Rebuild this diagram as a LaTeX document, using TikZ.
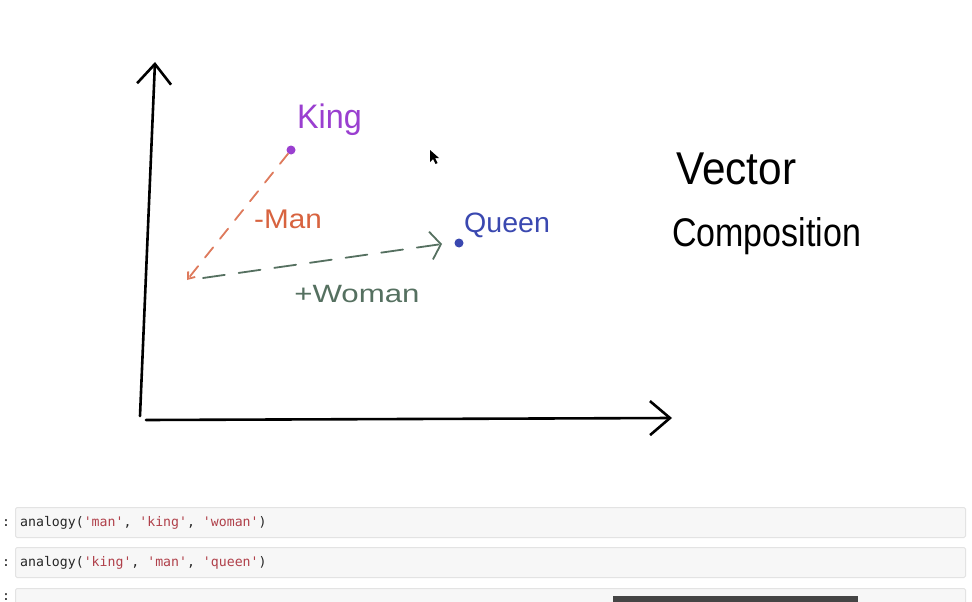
\documentclass[tikz,border=0pt]{standalone}
\usepackage{fontspec}
\setmainfont{Liberation Sans}
\newfontfamily\codefont{DejaVu Sans Mono}
\usetikzlibrary{arrows.meta}
\definecolor{kingc}{HTML}{9A3FD0}
\definecolor{manc}{HTML}{D8633F}
\definecolor{womanc}{HTML}{557060}
\definecolor{queenc}{HTML}{3A48B0}
\definecolor{cellfill}{HTML}{F7F7F7}
\definecolor{cellline}{HTML}{E3E3E3}
\definecolor{strc}{HTML}{B0404A}
\definecolor{darkbar}{HTML}{454545}
\tikzset{
  axis/.style={line width=2.6pt, line cap=round, line join=round, -{Straight Barb[length=20pt,width=34pt,line width=2.6pt]}},
  hand/.style={inner sep=0pt, anchor=base west},
  dot/.style={circle, fill=#1, inner sep=0pt, minimum size=9pt},
  cell/.style={draw=cellline, fill=cellfill, line width=1pt, rounded corners=1.5pt, anchor=north west, inner sep=0pt},
  code/.style={inner sep=0pt, anchor=base west, font=\codefont\fontsize{13.2}{15}\selectfont, text=black!85},
}
\newcommand{\str}[1]{\textcolor{strc}{#1}}
\begin{document}
\begin{tikzpicture}[x=1pt,y=-1pt]
\useasboundingbox[fill=white] (0,0) rectangle (972,602);
% axes
\coordinate (ybot) at (140,416);
\coordinate (ytop) at (155,62);
\coordinate (xl) at (146,420);
\coordinate (xr) at (672,418);
\draw[axis] (ybot) -- (ytop);
\draw[axis] (xl) -- (xr);
% points
\node[dot=kingc] (king) at (291,150) {};
\node[dot=queenc] (queen) at (459,243) {};
\coordinate (o) at (187,280);
\coordinate (os) at (203,278);
\coordinate (qe) at (442,244);
\draw[manc!85, line width=1.8pt, dash pattern=on 13pt off 11pt, line cap=round,
  -{Straight Barb[length=6pt,width=9pt,line width=1.8pt]}] (king) -- (o);
\draw[womanc, line width=1.8pt, dash pattern=on 22pt off 14pt, line cap=round,
  -{Straight Barb[length=10pt,width=28pt,line width=1.8pt]}] (os) -- (qe);
% labels
\node[hand, text=kingc, font=\fontsize{34}{36}\selectfont, xscale=0.95] (lking) at (297,128) {King};
\node[hand, text=manc, font=\fontsize{27}{30}\selectfont, xscale=1.1] (lman) at (254,228) {-Man};
\node[hand, text=queenc, font=\fontsize{28}{30}\selectfont, xscale=1.02] (lqueen) at (464,232) {Queen};
\node[hand, text=womanc, font=\fontsize{25}{28}\selectfont, xscale=1.25] (lwoman) at (294,302) {+Woman};
\node[hand, text=black, font=\fontsize{46}{50}\selectfont, xscale=0.92] (lvec) at (676,184) {Vector};
\node[hand, text=black, font=\fontsize{40}{44}\selectfont, xscale=0.85] (lcomp) at (672,246) {Composition};
% cursor
\fill[black] (430,150) -- (430,162) -- (433,159) -- (435.5,164) -- (437.5,163) -- (435,158) -- (439,158) -- cycle;
% code cells
\node[cell, minimum width=950pt, minimum height=30pt] (c1) at (15,507) {};
\node[cell, minimum width=950pt, minimum height=30pt] (c2) at (15,547) {};
\node[cell, minimum width=950pt, minimum height=30pt] (c3) at (15,588) {};
\node[code] (p1) at (2,526) {:};
\node[code] (p2) at (2,566) {:};
\node[code] (p3) at (2,600) {:};
\node[code] (t1) at (20,526) {analogy(\str{'man'}, \str{'king'}, \str{'woman'})};
\node[code] (t2) at (20,566) {analogy(\str{'king'}, \str{'man'}, \str{'queen'})};
\fill[darkbar] (613,596) rectangle (858,602);
\end{tikzpicture}
\end{document}
